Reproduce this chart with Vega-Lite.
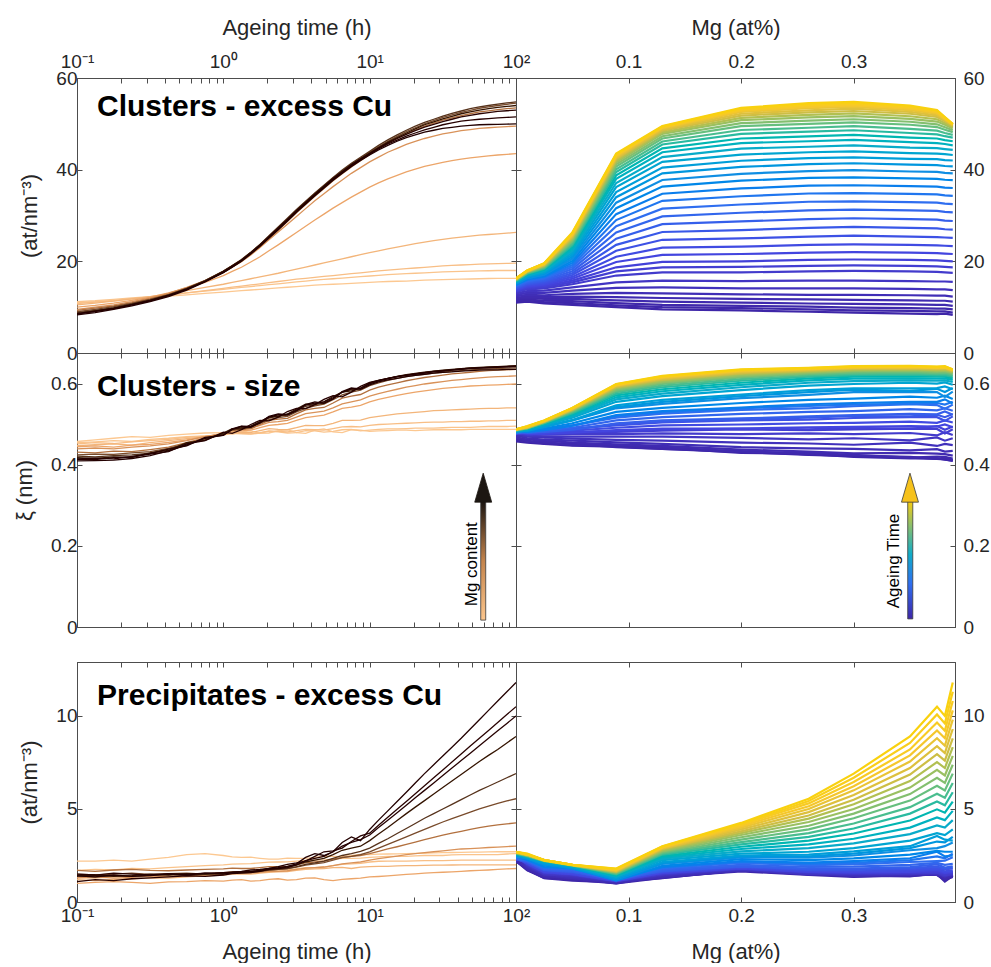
{
"$schema":"https://vega.github.io/schema/vega-lite/v6.json",
"background":"white",
"padding":{"left":13,"top":15,"right":0,"bottom":0},
"config":{"view":{"stroke":"#4d4d4d","strokeWidth":1},
"axis":{"labelFont":"Liberation Sans","titleFont":"Liberation Sans","labelFontSize":19,"titleFontSize":22,"titleFontWeight":"normal","labelColor":"#262626","titleColor":"#262626","tickColor":"#4d4d4d","domainColor":"#4d4d4d","grid":false,"tickSize":-5,"labelFlush":false,"labelOverlap":false}},
"datasets":{"d":[
{"m":0,"t":0.1,"a":11,"b":0.458,"c":2.2},{"m":0,"t":0.133,"a":11.2,"b":0.462,"c":2.2},{"m":0,"t":0.178,"a":11.5,"b":0.466,"c":2.25},{"m":0,"t":0.237,"a":11.8,"b":0.47,"c":2.2},{"m":0,"t":0.316,"a":12.1,"b":0.468,"c":2.3},{"m":0,"t":0.422,"a":12.4,"b":0.473,"c":2.4},{"m":0,"t":0.562,"a":12.7,"b":0.476,"c":2.55},{"m":0,"t":0.75,"a":13,"b":0.479,"c":2.6},{"m":0,"t":1,"a":13.3,"b":0.48,"c":2.5},{"m":0,"t":1.15,"a":13.45,"b":0.476,"c":2.42},{"m":0,"t":1.33,"a":13.6,"b":0.482,"c":2.4},{"m":0,"t":1.54,"a":13.75,"b":0.484,"c":2.41},{"m":0,"t":1.78,"a":13.9,"b":0.478,"c":2.35},{"m":0,"t":2.05,"a":14.05,"b":0.479,"c":2.3},{"m":0,"t":2.37,"a":14.2,"b":0.485,"c":2.3},{"m":0,"t":2.74,"a":14.35,"b":0.487,"c":2.36},{"m":0,"t":3.16,"a":14.5,"b":0.48,"c":2.35},{"m":0,"t":3.65,"a":14.65,"b":0.478,"c":2.35},{"m":0,"t":4.22,"a":14.8,"b":0.486,"c":2.4},{"m":0,"t":4.87,"a":14.9,"b":0.489,"c":2.46},{"m":0,"t":5.62,"a":15,"b":0.482,"c":2.45},{"m":0,"t":6.49,"a":15.1,"b":0.48,"c":2.44},{"m":0,"t":7.5,"a":15.2,"b":0.487,"c":2.5},{"m":0,"t":8.66,"a":15.3,"b":0.486,"c":2.56},{"m":0,"t":10,"a":15.4,"b":0.483,"c":2.55},{"m":0,"t":11.5,"a":15.5,"b":0.484,"c":2.57},{"m":0,"t":13.3,"a":15.6,"b":0.485,"c":2.58},{"m":0,"t":15.4,"a":15.65,"b":0.486,"c":2.59},{"m":0,"t":17.8,"a":15.7,"b":0.486,"c":2.6},{"m":0,"t":20.5,"a":15.8,"b":0.485,"c":2.61},{"m":0,"t":23.7,"a":15.9,"b":0.486,"c":2.62},{"m":0,"t":27.4,"a":15.95,"b":0.487,"c":2.64},{"m":0,"t":31.6,"a":16,"b":0.487,"c":2.65},{"m":0,"t":36.5,"a":16.05,"b":0.487,"c":2.66},{"m":0,"t":42.2,"a":16.1,"b":0.487,"c":2.67},{"m":0,"t":48.7,"a":16.15,"b":0.488,"c":2.68},{"m":0,"t":56.2,"a":16.2,"b":0.488,"c":2.68},{"m":0,"t":64.9,"a":16.25,"b":0.488,"c":2.69},{"m":0,"t":75,"a":16.3,"b":0.488,"c":2.7},{"m":0,"t":86.6,"a":16.3,"b":0.488,"c":2.7},{"m":0,"t":100,"a":16.3,"b":0.488,"c":2.7},
{"m":0.01,"t":0.1,"a":11.2,"b":0.455,"c":1.7},{"m":0.01,"t":0.133,"a":11.4,"b":0.457,"c":1.75},{"m":0.01,"t":0.178,"a":11.7,"b":0.46,"c":1.72},{"m":0.01,"t":0.237,"a":12,"b":0.458,"c":1.8},{"m":0.01,"t":0.316,"a":12.3,"b":0.463,"c":1.78},{"m":0.01,"t":0.422,"a":12.7,"b":0.466,"c":1.85},{"m":0.01,"t":0.562,"a":13.1,"b":0.47,"c":1.9},{"m":0.01,"t":0.75,"a":13.5,"b":0.472,"c":1.95},{"m":0.01,"t":1,"a":13.9,"b":0.474,"c":2},{"m":0.01,"t":1.33,"a":14.3,"b":0.477,"c":2.05},{"m":0.01,"t":1.78,"a":14.7,"b":0.479,"c":2.1},{"m":0.01,"t":2.37,"a":15.1,"b":0.482,"c":2.15},{"m":0.01,"t":3.16,"a":15.5,"b":0.48,"c":2.2},{"m":0.01,"t":4.22,"a":15.9,"b":0.484,"c":2.25},{"m":0.01,"t":5.62,"a":16.2,"b":0.483,"c":2.3},{"m":0.01,"t":7.5,"a":16.5,"b":0.488,"c":2.35},{"m":0.01,"t":10,"a":16.8,"b":0.486,"c":2.4},{"m":0.01,"t":13.3,"a":17.1,"b":0.489,"c":2.45},{"m":0.01,"t":17.8,"a":17.3,"b":0.49,"c":2.45},{"m":0.01,"t":23.7,"a":17.5,"b":0.491,"c":2.5},{"m":0.01,"t":31.6,"a":17.7,"b":0.492,"c":2.5},{"m":0.01,"t":42.2,"a":17.8,"b":0.493,"c":2.55},{"m":0.01,"t":56.2,"a":17.9,"b":0.494,"c":2.55},{"m":0.01,"t":75,"a":18,"b":0.495,"c":2.55},{"m":0.01,"t":100,"a":18,"b":0.496,"c":2.6},
{"m":0.01,"t":1.15,"a":14.1,"b":0.478,"c":2.04},{"m":0.01,"t":1.54,"a":14.5,"b":0.476,"c":2.06},{"m":0.01,"t":2.05,"a":14.9,"b":0.483,"c":2.14},{"m":0.01,"t":2.74,"a":15.3,"b":0.479,"c":2.16},{"m":0.01,"t":3.65,"a":15.7,"b":0.485,"c":2.24},{"m":0.01,"t":4.87,"a":16.05,"b":0.481,"c":2.26},{"m":0.01,"t":6.49,"a":16.35,"b":0.487,"c":2.34},{"m":0.01,"t":8.66,"a":16.65,"b":0.484,"c":2.36},{"m":0.01,"t":11.5,"a":16.95,"b":0.488,"c":2.43},{"m":0.01,"t":15.4,"a":17.2,"b":0.489,"c":2.45},{"m":0.01,"t":20.5,"a":17.4,"b":0.491,"c":2.48},{"m":0.01,"t":27.4,"a":17.6,"b":0.491,"c":2.5},{"m":0.01,"t":36.5,"a":17.75,"b":0.493,"c":2.53},{"m":0.01,"t":48.7,"a":17.85,"b":0.493,"c":2.55},{"m":0.01,"t":64.9,"a":17.95,"b":0.495,"c":2.55},{"m":0.01,"t":86.6,"a":18,"b":0.495,"c":2.58},
{"m":0.025,"t":0.1,"a":10.8,"b":0.452,"c":1.3},{"m":0.025,"t":0.133,"a":11.1,"b":0.455,"c":1.28},{"m":0.025,"t":0.178,"a":11.4,"b":0.453,"c":1.35},{"m":0.025,"t":0.237,"a":11.8,"b":0.457,"c":1.4},{"m":0.025,"t":0.316,"a":12.2,"b":0.46,"c":1.38},{"m":0.025,"t":0.422,"a":12.6,"b":0.463,"c":1.45},{"m":0.025,"t":0.562,"a":13.1,"b":0.468,"c":1.5},{"m":0.025,"t":0.75,"a":13.6,"b":0.471,"c":1.48},{"m":0.025,"t":1,"a":14.1,"b":0.475,"c":1.55},{"m":0.025,"t":1.33,"a":14.6,"b":0.478,"c":1.6},{"m":0.025,"t":1.78,"a":15.1,"b":0.48,"c":1.65},{"m":0.025,"t":2.37,"a":15.6,"b":0.483,"c":1.72},{"m":0.025,"t":3.16,"a":16.1,"b":0.485,"c":1.78},{"m":0.025,"t":4.22,"a":16.5,"b":0.487,"c":1.85},{"m":0.025,"t":5.62,"a":16.9,"b":0.49,"c":1.95},{"m":0.025,"t":7.5,"a":17.3,"b":0.495,"c":2.05},{"m":0.025,"t":10,"a":17.7,"b":0.498,"c":2.15},{"m":0.025,"t":13.3,"a":18.1,"b":0.501,"c":2.2},{"m":0.025,"t":17.8,"a":18.4,"b":0.503,"c":2.2},{"m":0.025,"t":23.7,"a":18.7,"b":0.505,"c":2.22},{"m":0.025,"t":31.6,"a":19,"b":0.506,"c":2.22},{"m":0.025,"t":42.2,"a":19.2,"b":0.507,"c":2.25},{"m":0.025,"t":56.2,"a":19.4,"b":0.508,"c":2.25},{"m":0.025,"t":75,"a":19.5,"b":0.509,"c":2.25},{"m":0.025,"t":100,"a":19.6,"b":0.51,"c":2.25},
{"m":0.025,"t":1.15,"a":14.35,"b":0.479,"c":1.6},{"m":0.025,"t":1.54,"a":14.85,"b":0.477,"c":1.6},{"m":0.025,"t":2.05,"a":15.35,"b":0.484,"c":1.7},{"m":0.025,"t":2.74,"a":15.85,"b":0.482,"c":1.73},{"m":0.025,"t":3.65,"a":16.3,"b":0.488,"c":1.84},{"m":0.025,"t":4.87,"a":16.7,"b":0.486,"c":1.88},{"m":0.025,"t":6.49,"a":17.1,"b":0.494,"c":2.02},{"m":0.025,"t":8.66,"a":17.5,"b":0.494,"c":2.08},{"m":0.025,"t":11.5,"a":17.9,"b":0.5,"c":2.19},{"m":0.025,"t":15.4,"a":18.25,"b":0.502,"c":2.2},{"m":0.025,"t":20.5,"a":18.55,"b":0.504,"c":2.21},{"m":0.025,"t":27.4,"a":18.85,"b":0.506,"c":2.22},{"m":0.025,"t":36.5,"a":19.1,"b":0.507,"c":2.24},{"m":0.025,"t":48.7,"a":19.3,"b":0.508,"c":2.25},{"m":0.025,"t":64.9,"a":19.45,"b":0.509,"c":2.25},{"m":0.025,"t":86.6,"a":19.55,"b":0.51,"c":2.25},
{"m":0.05,"t":0.1,"a":10.5,"b":0.448,"c":1.2},{"m":0.05,"t":0.133,"a":10.9,"b":0.45,"c":1.15},{"m":0.05,"t":0.178,"a":11.3,"b":0.452,"c":1.22},{"m":0.05,"t":0.237,"a":11.8,"b":0.449,"c":1.25},{"m":0.05,"t":0.316,"a":12.3,"b":0.455,"c":1.3},{"m":0.05,"t":0.422,"a":12.9,"b":0.46,"c":1.28},{"m":0.05,"t":0.562,"a":13.6,"b":0.465,"c":1.35},{"m":0.05,"t":0.75,"a":14.3,"b":0.47,"c":1.4},{"m":0.05,"t":1,"a":15,"b":0.476,"c":1.45},{"m":0.05,"t":1.33,"a":15.8,"b":0.48,"c":1.5},{"m":0.05,"t":1.78,"a":16.6,"b":0.485,"c":1.55},{"m":0.05,"t":2.37,"a":17.4,"b":0.488,"c":1.62},{"m":0.05,"t":3.16,"a":18.3,"b":0.492,"c":1.7},{"m":0.05,"t":4.22,"a":19.2,"b":0.497,"c":1.78},{"m":0.05,"t":5.62,"a":20.1,"b":0.503,"c":1.85},{"m":0.05,"t":7.5,"a":21,"b":0.51,"c":1.8},{"m":0.05,"t":10,"a":21.9,"b":0.517,"c":1.9},{"m":0.05,"t":13.3,"a":22.7,"b":0.523,"c":1.92},{"m":0.05,"t":17.8,"a":23.5,"b":0.528,"c":1.95},{"m":0.05,"t":23.7,"a":24.2,"b":0.532,"c":1.97},{"m":0.05,"t":31.6,"a":24.8,"b":0.535,"c":1.98},{"m":0.05,"t":42.2,"a":25.3,"b":0.537,"c":2},{"m":0.05,"t":56.2,"a":25.7,"b":0.539,"c":2},{"m":0.05,"t":75,"a":26,"b":0.54,"c":2},{"m":0.05,"t":100,"a":26.3,"b":0.541,"c":2},
{"m":0.05,"t":1.15,"a":15.4,"b":0.481,"c":1.5},{"m":0.05,"t":1.54,"a":16.2,"b":0.48,"c":1.5},{"m":0.05,"t":2.05,"a":17,"b":0.49,"c":1.6},{"m":0.05,"t":2.74,"a":17.85,"b":0.487,"c":1.64},{"m":0.05,"t":3.65,"a":18.75,"b":0.498,"c":1.76},{"m":0.05,"t":4.87,"a":19.65,"b":0.497,"c":1.8},{"m":0.05,"t":6.49,"a":20.55,"b":0.51,"c":1.86},{"m":0.05,"t":8.66,"a":21.45,"b":0.511,"c":1.87},{"m":0.05,"t":11.5,"a":22.3,"b":0.52,"c":1.91},{"m":0.05,"t":15.4,"a":23.1,"b":0.526,"c":1.94},{"m":0.05,"t":20.5,"a":23.85,"b":0.53,"c":1.96},{"m":0.05,"t":27.4,"a":24.5,"b":0.534,"c":1.98},{"m":0.05,"t":36.5,"a":25.05,"b":0.536,"c":1.99},{"m":0.05,"t":48.7,"a":25.5,"b":0.538,"c":2},{"m":0.05,"t":64.9,"a":25.85,"b":0.54,"c":2},{"m":0.05,"t":86.6,"a":26.15,"b":0.541,"c":2},
{"m":0.089,"t":0.1,"a":10,"b":0.445,"c":1},{"m":0.089,"t":0.133,"a":10.4,"b":0.447,"c":1.05},{"m":0.089,"t":0.178,"a":10.9,"b":0.444,"c":1.1},{"m":0.089,"t":0.237,"a":11.5,"b":0.449,"c":1.05},{"m":0.089,"t":0.316,"a":12.2,"b":0.451,"c":1},{"m":0.089,"t":0.422,"a":13.1,"b":0.456,"c":1.08},{"m":0.089,"t":0.562,"a":14.2,"b":0.462,"c":1.1},{"m":0.089,"t":0.75,"a":15.4,"b":0.47,"c":1.15},{"m":0.089,"t":1,"a":16.9,"b":0.476,"c":1.12},{"m":0.089,"t":1.33,"a":18.7,"b":0.484,"c":1.2},{"m":0.089,"t":1.78,"a":21,"b":0.492,"c":1.15},{"m":0.089,"t":2.37,"a":23.6,"b":0.5,"c":1.25},{"m":0.089,"t":3.16,"a":26.3,"b":0.51,"c":1.2},{"m":0.089,"t":4.22,"a":29,"b":0.52,"c":1.3},{"m":0.089,"t":5.62,"a":31.6,"b":0.531,"c":1.15},{"m":0.089,"t":7.5,"a":34,"b":0.543,"c":1.25},{"m":0.089,"t":10,"a":36.2,"b":0.556,"c":1.35},{"m":0.089,"t":13.3,"a":38,"b":0.567,"c":1.4},{"m":0.089,"t":17.8,"a":39.5,"b":0.576,"c":1.48},{"m":0.089,"t":23.7,"a":40.7,"b":0.583,"c":1.55},{"m":0.089,"t":31.6,"a":41.6,"b":0.589,"c":1.6},{"m":0.089,"t":42.2,"a":42.3,"b":0.593,"c":1.65},{"m":0.089,"t":56.2,"a":42.8,"b":0.596,"c":1.7},{"m":0.089,"t":75,"a":43.2,"b":0.598,"c":1.75},{"m":0.089,"t":100,"a":43.5,"b":0.6,"c":1.8},
{"m":0.089,"t":1.15,"a":17.8,"b":0.482,"c":1.18},{"m":0.089,"t":1.54,"a":19.85,"b":0.486,"c":1.12},{"m":0.089,"t":2.05,"a":22.3,"b":0.498,"c":1.22},{"m":0.089,"t":2.74,"a":24.95,"b":0.503,"c":1.18},{"m":0.089,"t":3.65,"a":27.65,"b":0.517,"c":1.28},{"m":0.089,"t":4.87,"a":30.3,"b":0.523,"c":1.2},{"m":0.089,"t":6.49,"a":32.8,"b":0.54,"c":1.22},{"m":0.089,"t":8.66,"a":35.1,"b":0.547,"c":1.28},{"m":0.089,"t":11.5,"a":37.1,"b":0.562,"c":1.37},{"m":0.089,"t":15.4,"a":38.75,"b":0.572,"c":1.44},{"m":0.089,"t":20.5,"a":40.1,"b":0.58,"c":1.51},{"m":0.089,"t":27.4,"a":41.15,"b":0.586,"c":1.58},{"m":0.089,"t":36.5,"a":41.95,"b":0.591,"c":1.62},{"m":0.089,"t":48.7,"a":42.55,"b":0.595,"c":1.68},{"m":0.089,"t":64.9,"a":43,"b":0.597,"c":1.72},{"m":0.089,"t":86.6,"a":43.35,"b":0.599,"c":1.78},
{"m":0.13,"t":0.1,"a":9.5,"b":0.44,"c":1.3},{"m":0.13,"t":0.133,"a":10,"b":0.442,"c":1.35},{"m":0.13,"t":0.178,"a":10.5,"b":0.44,"c":1.28},{"m":0.13,"t":0.237,"a":11.2,"b":0.444,"c":1.32},{"m":0.13,"t":0.316,"a":12,"b":0.447,"c":1.4},{"m":0.13,"t":0.422,"a":13,"b":0.452,"c":1.35},{"m":0.13,"t":0.562,"a":14.3,"b":0.46,"c":1.42},{"m":0.13,"t":0.75,"a":15.8,"b":0.47,"c":1.45},{"m":0.13,"t":1,"a":17.6,"b":0.478,"c":1.5},{"m":0.13,"t":1.33,"a":19.9,"b":0.487,"c":1.55},{"m":0.13,"t":1.78,"a":23,"b":0.498,"c":1.6},{"m":0.13,"t":2.37,"a":26.4,"b":0.507,"c":1.65},{"m":0.13,"t":3.16,"a":29.8,"b":0.518,"c":1.75},{"m":0.13,"t":4.22,"a":33.2,"b":0.53,"c":1.85},{"m":0.13,"t":5.62,"a":36.3,"b":0.541,"c":1.95},{"m":0.13,"t":7.5,"a":39.2,"b":0.556,"c":2.1},{"m":0.13,"t":10,"a":41.7,"b":0.57,"c":2.25},{"m":0.13,"t":13.3,"a":43.8,"b":0.582,"c":2.4},{"m":0.13,"t":17.8,"a":45.5,"b":0.592,"c":2.55},{"m":0.13,"t":23.7,"a":46.8,"b":0.6,"c":2.65},{"m":0.13,"t":31.6,"a":47.8,"b":0.606,"c":2.75},{"m":0.13,"t":42.2,"a":48.5,"b":0.611,"c":2.85},{"m":0.13,"t":56.2,"a":49,"b":0.615,"c":2.9},{"m":0.13,"t":75,"a":49.3,"b":0.618,"c":2.95},{"m":0.13,"t":100,"a":49.5,"b":0.62,"c":3},
{"m":0.13,"t":1.15,"a":18.7,"b":0.485,"c":1.55},{"m":0.13,"t":1.54,"a":21.4,"b":0.49,"c":1.56},{"m":0.13,"t":2.05,"a":24.7,"b":0.505,"c":1.65},{"m":0.13,"t":2.74,"a":28.1,"b":0.51,"c":1.68},{"m":0.13,"t":3.65,"a":31.5,"b":0.527,"c":1.82},{"m":0.13,"t":4.87,"a":34.75,"b":0.533,"c":1.88},{"m":0.13,"t":6.49,"a":37.75,"b":0.551,"c":2.05},{"m":0.13,"t":8.66,"a":40.45,"b":0.561,"c":2.15},{"m":0.13,"t":11.5,"a":42.75,"b":0.576,"c":2.33},{"m":0.13,"t":15.4,"a":44.65,"b":0.587,"c":2.47},{"m":0.13,"t":20.5,"a":46.15,"b":0.596,"c":2.6},{"m":0.13,"t":27.4,"a":47.3,"b":0.603,"c":2.7},{"m":0.13,"t":36.5,"a":48.15,"b":0.609,"c":2.8},{"m":0.13,"t":48.7,"a":48.75,"b":0.613,"c":2.87},{"m":0.13,"t":64.9,"a":49.15,"b":0.617,"c":2.93},{"m":0.13,"t":86.6,"a":49.4,"b":0.619,"c":2.98},
{"m":0.2,"t":0.1,"a":9.3,"b":0.432,"c":1.7},{"m":0.2,"t":0.133,"a":9.8,"b":0.43,"c":1.65},{"m":0.2,"t":0.178,"a":10.3,"b":0.434,"c":1.72},{"m":0.2,"t":0.237,"a":11,"b":0.433,"c":1.75},{"m":0.2,"t":0.316,"a":11.8,"b":0.438,"c":1.7},{"m":0.2,"t":0.422,"a":12.8,"b":0.444,"c":1.68},{"m":0.2,"t":0.562,"a":14.1,"b":0.455,"c":1.72},{"m":0.2,"t":0.75,"a":15.7,"b":0.467,"c":1.75},{"m":0.2,"t":1,"a":17.6,"b":0.476,"c":1.78},{"m":0.2,"t":1.33,"a":20,"b":0.49,"c":1.8},{"m":0.2,"t":1.78,"a":23.2,"b":0.5,"c":1.85},{"m":0.2,"t":2.37,"a":26.8,"b":0.513,"c":1.9},{"m":0.2,"t":3.16,"a":30.6,"b":0.526,"c":2},{"m":0.2,"t":4.22,"a":34.2,"b":0.54,"c":2.15},{"m":0.2,"t":5.62,"a":37.6,"b":0.553,"c":2.3},{"m":0.2,"t":7.5,"a":40.6,"b":0.57,"c":2.45},{"m":0.2,"t":10,"a":43.3,"b":0.585,"c":2.6},{"m":0.2,"t":13.3,"a":45.8,"b":0.598,"c":2.85},{"m":0.2,"t":17.8,"a":47.8,"b":0.608,"c":3.1},{"m":0.2,"t":23.7,"a":49.5,"b":0.616,"c":3.35},{"m":0.2,"t":31.6,"a":50.8,"b":0.622,"c":3.6},{"m":0.2,"t":42.2,"a":51.8,"b":0.627,"c":3.8},{"m":0.2,"t":56.2,"a":52.6,"b":0.631,"c":4},{"m":0.2,"t":75,"a":53.1,"b":0.634,"c":4.15},{"m":0.2,"t":100,"a":53.5,"b":0.636,"c":4.25},
{"m":0.2,"t":1.15,"a":18.8,"b":0.488,"c":1.82},{"m":0.2,"t":1.54,"a":21.6,"b":0.49,"c":1.8},{"m":0.2,"t":2.05,"a":25,"b":0.51,"c":1.9},{"m":0.2,"t":2.74,"a":28.7,"b":0.515,"c":1.92},{"m":0.2,"t":3.65,"a":32.4,"b":0.536,"c":2.1},{"m":0.2,"t":4.87,"a":35.9,"b":0.542,"c":2.2},{"m":0.2,"t":6.49,"a":39.1,"b":0.565,"c":2.4},{"m":0.2,"t":8.66,"a":41.95,"b":0.574,"c":2.5},{"m":0.2,"t":11.5,"a":44.6,"b":0.592,"c":2.72},{"m":0.2,"t":15.4,"a":46.8,"b":0.603,"c":2.97},{"m":0.2,"t":20.5,"a":48.65,"b":0.612,"c":3.22},{"m":0.2,"t":27.4,"a":50.15,"b":0.619,"c":3.48},{"m":0.2,"t":36.5,"a":51.3,"b":0.625,"c":3.7},{"m":0.2,"t":48.7,"a":52.2,"b":0.629,"c":3.9},{"m":0.2,"t":64.9,"a":52.85,"b":0.633,"c":4.08},{"m":0.2,"t":86.6,"a":53.3,"b":0.635,"c":4.2},
{"m":0.26,"t":0.1,"a":9,"b":0.425,"c":1.5},{"m":0.26,"t":0.133,"a":9.5,"b":0.427,"c":1.45},{"m":0.26,"t":0.178,"a":10.1,"b":0.426,"c":1.5},{"m":0.26,"t":0.237,"a":10.8,"b":0.43,"c":1.55},{"m":0.26,"t":0.316,"a":11.7,"b":0.433,"c":1.48},{"m":0.26,"t":0.422,"a":12.7,"b":0.441,"c":1.52},{"m":0.26,"t":0.562,"a":14.1,"b":0.453,"c":1.55},{"m":0.26,"t":0.75,"a":15.8,"b":0.463,"c":1.5},{"m":0.26,"t":1,"a":17.8,"b":0.478,"c":1.58},{"m":0.26,"t":1.33,"a":20.3,"b":0.488,"c":1.62},{"m":0.26,"t":1.78,"a":23.6,"b":0.503,"c":1.68},{"m":0.26,"t":2.37,"a":27.3,"b":0.517,"c":1.75},{"m":0.26,"t":3.16,"a":31.1,"b":0.531,"c":1.88},{"m":0.26,"t":4.22,"a":34.8,"b":0.546,"c":2.05},{"m":0.26,"t":5.62,"a":38.2,"b":0.561,"c":2.25},{"m":0.26,"t":7.5,"a":41.2,"b":0.58,"c":2.45},{"m":0.26,"t":10,"a":43.8,"b":0.596,"c":2.7},{"m":0.26,"t":13.3,"a":46.2,"b":0.609,"c":3.1},{"m":0.26,"t":17.8,"a":48.3,"b":0.618,"c":3.5},{"m":0.26,"t":23.7,"a":50,"b":0.624,"c":3.9},{"m":0.26,"t":31.6,"a":51.4,"b":0.629,"c":4.3},{"m":0.26,"t":42.2,"a":52.5,"b":0.633,"c":4.65},{"m":0.26,"t":56.2,"a":53.4,"b":0.636,"c":5},{"m":0.26,"t":75,"a":54,"b":0.638,"c":5.3},{"m":0.26,"t":100,"a":54.5,"b":0.64,"c":5.55},
{"m":0.26,"t":1.15,"a":19,"b":0.486,"c":1.62},{"m":0.26,"t":1.54,"a":21.9,"b":0.493,"c":1.63},{"m":0.26,"t":2.05,"a":25.4,"b":0.512,"c":1.73},{"m":0.26,"t":2.74,"a":29.2,"b":0.52,"c":1.8},{"m":0.26,"t":3.65,"a":33,"b":0.54,"c":1.98},{"m":0.26,"t":4.87,"a":36.5,"b":0.55,"c":2.12},{"m":0.26,"t":6.49,"a":39.7,"b":0.573,"c":2.38},{"m":0.26,"t":8.66,"a":42.5,"b":0.585,"c":2.55},{"m":0.26,"t":11.5,"a":45,"b":0.603,"c":2.9},{"m":0.26,"t":15.4,"a":47.25,"b":0.614,"c":3.3},{"m":0.26,"t":20.5,"a":49.15,"b":0.621,"c":3.7},{"m":0.26,"t":27.4,"a":50.7,"b":0.627,"c":4.1},{"m":0.26,"t":36.5,"a":51.95,"b":0.631,"c":4.48},{"m":0.26,"t":48.7,"a":52.95,"b":0.635,"c":4.83},{"m":0.26,"t":64.9,"a":53.7,"b":0.637,"c":5.15},{"m":0.26,"t":86.6,"a":54.25,"b":0.639,"c":5.43},
{"m":0.3,"t":0.1,"a":8.8,"b":0.422,"c":1.4},{"m":0.3,"t":0.133,"a":9.3,"b":0.42,"c":1.35},{"m":0.3,"t":0.178,"a":9.9,"b":0.423,"c":1.42},{"m":0.3,"t":0.237,"a":10.7,"b":0.425,"c":1.38},{"m":0.3,"t":0.316,"a":11.6,"b":0.429,"c":1.45},{"m":0.3,"t":0.422,"a":12.7,"b":0.44,"c":1.48},{"m":0.3,"t":0.562,"a":14.1,"b":0.45,"c":1.42},{"m":0.3,"t":0.75,"a":15.8,"b":0.466,"c":1.5},{"m":0.3,"t":1,"a":17.9,"b":0.476,"c":1.52},{"m":0.3,"t":1.33,"a":20.4,"b":0.492,"c":1.58},{"m":0.3,"t":1.78,"a":23.7,"b":0.504,"c":1.65},{"m":0.3,"t":2.37,"a":27.5,"b":0.521,"c":1.75},{"m":0.3,"t":3.16,"a":31.3,"b":0.533,"c":1.9},{"m":0.3,"t":4.22,"a":34.9,"b":0.549,"c":2.1},{"m":0.3,"t":5.62,"a":38.3,"b":0.564,"c":2.35},{"m":0.3,"t":7.5,"a":41.4,"b":0.586,"c":2.6},{"m":0.3,"t":10,"a":44,"b":0.6,"c":2.9},{"m":0.3,"t":13.3,"a":46.5,"b":0.613,"c":3.4},{"m":0.3,"t":17.8,"a":48.6,"b":0.622,"c":3.95},{"m":0.3,"t":23.7,"a":50.3,"b":0.628,"c":4.5},{"m":0.3,"t":31.6,"a":51.7,"b":0.633,"c":5},{"m":0.3,"t":42.2,"a":52.8,"b":0.637,"c":5.5},{"m":0.3,"t":56.2,"a":53.7,"b":0.64,"c":6},{"m":0.3,"t":75,"a":54.3,"b":0.642,"c":6.45},{"m":0.3,"t":100,"a":54.8,"b":0.644,"c":6.9},
{"m":0.3,"t":1.15,"a":19.1,"b":0.488,"c":1.56},{"m":0.3,"t":1.54,"a":22,"b":0.494,"c":1.6},{"m":0.3,"t":2.05,"a":25.6,"b":0.516,"c":1.72},{"m":0.3,"t":2.74,"a":29.4,"b":0.523,"c":1.8},{"m":0.3,"t":3.65,"a":33.1,"b":0.545,"c":2.02},{"m":0.3,"t":4.87,"a":36.6,"b":0.553,"c":2.2},{"m":0.3,"t":6.49,"a":39.9,"b":0.58,"c":2.5},{"m":0.3,"t":8.66,"a":42.7,"b":0.589,"c":2.72},{"m":0.3,"t":11.5,"a":45.3,"b":0.607,"c":3.15},{"m":0.3,"t":15.4,"a":47.6,"b":0.618,"c":3.68},{"m":0.3,"t":20.5,"a":49.5,"b":0.625,"c":4.22},{"m":0.3,"t":27.4,"a":51,"b":0.631,"c":4.75},{"m":0.3,"t":36.5,"a":52.3,"b":0.635,"c":5.25},{"m":0.3,"t":48.7,"a":53.3,"b":0.639,"c":5.75},{"m":0.3,"t":64.9,"a":54,"b":0.641,"c":6.22},{"m":0.3,"t":86.6,"a":54.55,"b":0.643,"c":6.68},
{"m":0.35,"t":0.1,"a":8.6,"b":0.418,"c":1.4},{"m":0.35,"t":0.133,"a":9.2,"b":0.416,"c":1.45},{"m":0.35,"t":0.178,"a":9.8,"b":0.42,"c":1.38},{"m":0.35,"t":0.237,"a":10.6,"b":0.418,"c":1.42},{"m":0.35,"t":0.316,"a":11.5,"b":0.43,"c":1.5},{"m":0.35,"t":0.422,"a":12.6,"b":0.436,"c":1.45},{"m":0.35,"t":0.562,"a":14,"b":0.455,"c":1.52},{"m":0.35,"t":0.75,"a":15.7,"b":0.461,"c":1.5},{"m":0.35,"t":1,"a":17.8,"b":0.479,"c":1.55},{"m":0.35,"t":1.33,"a":20.3,"b":0.489,"c":1.6},{"m":0.35,"t":1.78,"a":23.6,"b":0.507,"c":1.7},{"m":0.35,"t":2.37,"a":27.3,"b":0.52,"c":1.82},{"m":0.35,"t":3.16,"a":31.1,"b":0.538,"c":2},{"m":0.35,"t":4.22,"a":34.7,"b":0.551,"c":2.25},{"m":0.35,"t":5.62,"a":38.1,"b":0.569,"c":2.55},{"m":0.35,"t":7.5,"a":41.1,"b":0.583,"c":2.9},{"m":0.35,"t":10,"a":43.6,"b":0.603,"c":3.3},{"m":0.35,"t":13.3,"a":46,"b":0.614,"c":4},{"m":0.35,"t":17.8,"a":48,"b":0.623,"c":4.75},{"m":0.35,"t":23.7,"a":49.8,"b":0.629,"c":5.45},{"m":0.35,"t":31.6,"a":51.1,"b":0.634,"c":6.15},{"m":0.35,"t":42.2,"a":52.2,"b":0.638,"c":6.85},{"m":0.35,"t":56.2,"a":53,"b":0.641,"c":7.55},{"m":0.35,"t":75,"a":53.6,"b":0.643,"c":8.2},{"m":0.35,"t":100,"a":54,"b":0.645,"c":8.9},
{"m":0.35,"t":1.15,"a":19,"b":0.49,"c":1.6},{"m":0.35,"t":1.54,"a":21.9,"b":0.496,"c":1.62},{"m":0.35,"t":2.05,"a":25.4,"b":0.518,"c":1.78},{"m":0.35,"t":2.74,"a":29.2,"b":0.526,"c":1.88},{"m":0.35,"t":3.65,"a":32.9,"b":0.55,"c":2.15},{"m":0.35,"t":4.87,"a":36.4,"b":0.556,"c":2.35},{"m":0.35,"t":6.49,"a":39.6,"b":0.58,"c":2.78},{"m":0.35,"t":8.66,"a":42.35,"b":0.589,"c":3},{"m":0.35,"t":11.5,"a":44.8,"b":0.609,"c":3.65},{"m":0.35,"t":15.4,"a":47,"b":0.619,"c":4.38},{"m":0.35,"t":20.5,"a":48.9,"b":0.626,"c":5.1},{"m":0.35,"t":27.4,"a":50.45,"b":0.632,"c":5.8},{"m":0.35,"t":36.5,"a":51.65,"b":0.636,"c":6.5},{"m":0.35,"t":48.7,"a":52.6,"b":0.64,"c":7.2},{"m":0.35,"t":64.9,"a":53.3,"b":0.642,"c":7.88},{"m":0.35,"t":86.6,"a":53.8,"b":0.644,"c":8.55},
{"m":0.374,"t":0.1,"a":8.5,"b":0.415,"c":1.5},{"m":0.374,"t":0.133,"a":9.1,"b":0.417,"c":1.45},{"m":0.374,"t":0.178,"a":9.7,"b":0.415,"c":1.55},{"m":0.374,"t":0.237,"a":10.5,"b":0.421,"c":1.5},{"m":0.374,"t":0.316,"a":11.4,"b":0.428,"c":1.45},{"m":0.374,"t":0.422,"a":12.5,"b":0.439,"c":1.52},{"m":0.374,"t":0.562,"a":13.9,"b":0.447,"c":1.48},{"m":0.374,"t":0.75,"a":15.6,"b":0.468,"c":1.55},{"m":0.374,"t":1,"a":17.7,"b":0.473,"c":1.58},{"m":0.374,"t":1.33,"a":20.2,"b":0.496,"c":1.65},{"m":0.374,"t":1.78,"a":23.5,"b":0.504,"c":1.75},{"m":0.374,"t":2.37,"a":27.2,"b":0.524,"c":1.9},{"m":0.374,"t":3.16,"a":31,"b":0.535,"c":2.1},{"m":0.374,"t":4.22,"a":34.6,"b":0.553,"c":2.45},{"m":0.374,"t":5.62,"a":38,"b":0.566,"c":2.75},{"m":0.374,"t":7.5,"a":41,"b":0.588,"c":3.25},{"m":0.374,"t":10,"a":43.5,"b":0.601,"c":3.7},{"m":0.374,"t":13.3,"a":45.8,"b":0.613,"c":4.55},{"m":0.374,"t":17.8,"a":47.7,"b":0.621,"c":5.4},{"m":0.374,"t":23.7,"a":49.3,"b":0.627,"c":6.25},{"m":0.374,"t":31.6,"a":50.5,"b":0.632,"c":7.1},{"m":0.374,"t":42.2,"a":51.5,"b":0.636,"c":7.95},{"m":0.374,"t":56.2,"a":52.2,"b":0.639,"c":8.8},{"m":0.374,"t":75,"a":52.7,"b":0.641,"c":9.65},{"m":0.374,"t":100,"a":53,"b":0.643,"c":10.5},
{"m":0.374,"t":1.15,"a":18.9,"b":0.489,"c":1.6},{"m":0.374,"t":1.54,"a":21.8,"b":0.495,"c":1.72},{"m":0.374,"t":2.05,"a":25.3,"b":0.518,"c":1.8},{"m":0.374,"t":2.74,"a":29.1,"b":0.525,"c":2.02},{"m":0.374,"t":3.65,"a":32.8,"b":0.548,"c":2.2},{"m":0.374,"t":4.87,"a":36.3,"b":0.556,"c":2.7},{"m":0.374,"t":6.49,"a":39.5,"b":0.58,"c":2.9},{"m":0.374,"t":8.66,"a":42.3,"b":0.59,"c":3.55},{"m":0.374,"t":11.5,"a":44.7,"b":0.608,"c":4.12},{"m":0.374,"t":15.4,"a":46.8,"b":0.618,"c":4.98},{"m":0.374,"t":20.5,"a":48.5,"b":0.624,"c":5.82},{"m":0.374,"t":27.4,"a":49.9,"b":0.63,"c":6.68},{"m":0.374,"t":36.5,"a":51,"b":0.634,"c":7.52},{"m":0.374,"t":48.7,"a":51.85,"b":0.638,"c":8.38},{"m":0.374,"t":64.9,"a":52.45,"b":0.64,"c":9.22},{"m":0.374,"t":86.6,"a":52.85,"b":0.642,"c":10.08},
{"m":0.381,"t":0.1,"a":8.6,"b":0.414,"c":1.1},{"m":0.381,"t":0.133,"a":9.1,"b":0.413,"c":1.2},{"m":0.381,"t":0.178,"a":9.7,"b":0.418,"c":1.15},{"m":0.381,"t":0.237,"a":10.5,"b":0.42,"c":1.25},{"m":0.381,"t":0.316,"a":11.4,"b":0.427,"c":1.3},{"m":0.381,"t":0.422,"a":12.5,"b":0.433,"c":1.35},{"m":0.381,"t":0.562,"a":13.9,"b":0.452,"c":1.4},{"m":0.381,"t":0.75,"a":15.6,"b":0.46,"c":1.38},{"m":0.381,"t":1,"a":17.6,"b":0.481,"c":1.45},{"m":0.381,"t":1.33,"a":20.1,"b":0.487,"c":1.55},{"m":0.381,"t":1.78,"a":23.4,"b":0.51,"c":1.65},{"m":0.381,"t":2.37,"a":27,"b":0.518,"c":1.8},{"m":0.381,"t":3.16,"a":30.8,"b":0.54,"c":2},{"m":0.381,"t":4.22,"a":34.4,"b":0.549,"c":2.35},{"m":0.381,"t":5.62,"a":37.8,"b":0.571,"c":2.7},{"m":0.381,"t":7.5,"a":40.8,"b":0.58,"c":3.2},{"m":0.381,"t":10,"a":43.4,"b":0.604,"c":3.6},{"m":0.381,"t":13.3,"a":45.6,"b":0.614,"c":4.4},{"m":0.381,"t":17.8,"a":47.3,"b":0.622,"c":5.2},{"m":0.381,"t":23.7,"a":48.7,"b":0.628,"c":6},{"m":0.381,"t":31.6,"a":49.8,"b":0.633,"c":6.8},{"m":0.381,"t":42.2,"a":50.6,"b":0.637,"c":7.6},{"m":0.381,"t":56.2,"a":51,"b":0.64,"c":8.4},{"m":0.381,"t":75,"a":51.3,"b":0.642,"c":9.2},{"m":0.381,"t":100,"a":51.5,"b":0.644,"c":10},
{"m":0.381,"t":1.15,"a":18.8,"b":0.478,"c":1.52},{"m":0.381,"t":1.54,"a":21.7,"b":0.5,"c":1.58},{"m":0.381,"t":2.05,"a":25.2,"b":0.509,"c":1.75},{"m":0.381,"t":2.74,"a":28.9,"b":0.532,"c":1.85},{"m":0.381,"t":3.65,"a":32.6,"b":0.539,"c":2.22},{"m":0.381,"t":4.87,"a":36.1,"b":0.562,"c":2.45},{"m":0.381,"t":6.49,"a":39.3,"b":0.568,"c":3},{"m":0.381,"t":8.66,"a":42.1,"b":0.594,"c":3.35},{"m":0.381,"t":11.5,"a":44.5,"b":0.609,"c":4},{"m":0.381,"t":15.4,"a":46.45,"b":0.618,"c":4.8},{"m":0.381,"t":20.5,"a":48,"b":0.625,"c":5.6},{"m":0.381,"t":27.4,"a":49.25,"b":0.631,"c":6.4},{"m":0.381,"t":36.5,"a":50.2,"b":0.635,"c":7.2},{"m":0.381,"t":48.7,"a":50.8,"b":0.639,"c":8},{"m":0.381,"t":64.9,"a":51.15,"b":0.641,"c":8.8},{"m":0.381,"t":86.6,"a":51.4,"b":0.643,"c":9.6},
{"m":0.388,"t":0.1,"a":8.3,"b":0.41,"c":1.4},{"m":0.388,"t":0.133,"a":8.8,"b":0.411,"c":1.35},{"m":0.388,"t":0.178,"a":9.5,"b":0.412,"c":1.45},{"m":0.388,"t":0.237,"a":10.3,"b":0.416,"c":1.38},{"m":0.388,"t":0.316,"a":11.2,"b":0.423,"c":1.42},{"m":0.388,"t":0.422,"a":12.3,"b":0.435,"c":1.5},{"m":0.388,"t":0.562,"a":13.7,"b":0.449,"c":1.45},{"m":0.388,"t":0.75,"a":15.5,"b":0.466,"c":1.55},{"m":0.388,"t":1,"a":17.5,"b":0.474,"c":1.5},{"m":0.388,"t":1.33,"a":20,"b":0.495,"c":1.62},{"m":0.388,"t":1.78,"a":23.3,"b":0.505,"c":1.7},{"m":0.388,"t":2.37,"a":26.9,"b":0.526,"c":1.85},{"m":0.388,"t":3.16,"a":30.7,"b":0.534,"c":2.05},{"m":0.388,"t":4.22,"a":34.3,"b":0.556,"c":2.6},{"m":0.388,"t":5.62,"a":37.7,"b":0.563,"c":2.7},{"m":0.388,"t":7.5,"a":40.7,"b":0.59,"c":3.5},{"m":0.388,"t":10,"a":43.2,"b":0.598,"c":3.9},{"m":0.388,"t":13.3,"a":45.3,"b":0.61,"c":4.9},{"m":0.388,"t":17.8,"a":47,"b":0.618,"c":5.9},{"m":0.388,"t":23.7,"a":48.2,"b":0.624,"c":6.9},{"m":0.388,"t":31.6,"a":49,"b":0.629,"c":7.85},{"m":0.388,"t":42.2,"a":49.5,"b":0.632,"c":8.8},{"m":0.388,"t":56.2,"a":49.8,"b":0.634,"c":9.8},{"m":0.388,"t":75,"a":49.9,"b":0.635,"c":10.8},{"m":0.388,"t":100,"a":50,"b":0.636,"c":11.8},
{"m":0.388,"t":1.15,"a":18.7,"b":0.488,"c":1.58},{"m":0.388,"t":1.54,"a":21.6,"b":0.493,"c":1.64},{"m":0.388,"t":2.05,"a":25.1,"b":0.52,"c":1.8},{"m":0.388,"t":2.74,"a":28.8,"b":0.524,"c":1.92},{"m":0.388,"t":3.65,"a":32.5,"b":0.549,"c":2.4},{"m":0.388,"t":4.87,"a":36,"b":0.552,"c":2.5},{"m":0.388,"t":6.49,"a":39.2,"b":0.581,"c":3.2},{"m":0.388,"t":8.66,"a":42,"b":0.587,"c":3.3},{"m":0.388,"t":11.5,"a":44.3,"b":0.605,"c":4.4},{"m":0.388,"t":15.4,"a":46.2,"b":0.614,"c":5.4},{"m":0.388,"t":20.5,"a":47.6,"b":0.621,"c":6.4},{"m":0.388,"t":27.4,"a":48.6,"b":0.627,"c":7.38},{"m":0.388,"t":36.5,"a":49.25,"b":0.63,"c":8.32},{"m":0.388,"t":48.7,"a":49.65,"b":0.633,"c":9.3},{"m":0.388,"t":64.9,"a":49.85,"b":0.635,"c":10.3},{"m":0.388,"t":86.6,"a":49.95,"b":0.636,"c":11.3}
]},
"concat":[
{"width":439,"height":275,"layer":[
{"data":{"name":"d"},"mark":{"type":"line","strokeWidth":1.3,"clip":true},
"encoding":{"x":{"field":"t","type":"quantitative","scale":{"type":"log","domain":[0.1,100],"nice":false},"axis":{"orient":"top","values":[0.1,0.2,0.3,0.4,0.5,0.6,0.7,0.8,0.9,1,2,3,4,5,6,7,8,9,10,20,30,40,50,60,70,80,90,100],"labelExpr":"datum.value == 0.1 ? '10⁻¹' : datum.value == 1 ? '10⁰' : datum.value == 10 ? '10¹' : datum.value == 100 ? '10²' : ''","title":"Ageing time (h)","labelPadding":12,"titlePadding":13}},
"y":{"field":"a","type":"quantitative","scale":{"domain":[0,60],"nice":false},"axis":{"orient":"left","values":[0,20,40,60],"title":"(at/nm⁻³)","labelPadding":5,"titlePadding":14}},
"color":{"field":"m","type":"quantitative","scale":{"domain":[0,0.388],"range":["#fcc891","#eba266","#b87440","#5c3820","#000000"]},"legend":null},
"detail":{"field":"m","type":"nominal"}}},
{"data":{"values":[{"t":0.137,"v":51.7,"s":"Clusters - excess Cu"}]},"mark":{"type":"text","font":"Liberation Sans","fontWeight":"bold","fontSize":30,"align":"left","baseline":"alphabetic","color":"#000000"},
"encoding":{"x":{"field":"t","type":"quantitative","scale":{"type":"log","domain":[0.1,100],"nice":false},"axis":{"orient":"bottom","values":[0.1,0.2,0.3,0.4,0.5,0.6,0.7,0.8,0.9,1,2,3,4,5,6,7,8,9,10,20,30,40,50,60,70,80,90,100],"labels":false,"title":null}},
"y":{"field":"v","type":"quantitative","scale":{"domain":[0,60],"nice":false},"axis":{"orient":"right","values":[0,20,40,60],"labels":false,"title":null}},
"text":{"field":"s"}}}
],"resolve":{"scale":{"x":"independent","y":"independent"}}},
{"width":439,"height":275,"layer":[
{"data":{"name":"d"},"mark":{"type":"line","strokeWidth":2.2,"clip":true},
"encoding":{"x":{"field":"m","type":"quantitative","scale":{"domain":[0,0.39],"nice":false},"axis":{"orient":"top","values":[0.1,0.2,0.3],"format":"~g","title":"Mg (at%)","labelPadding":12,"titlePadding":13}},
"y":{"field":"a","type":"quantitative","scale":{"domain":[0,60],"nice":false},"axis":{"orient":"right","values":[0,20,40,60],"title":null,"labelPadding":13}},
"color":{"field":"t","type":"quantitative","scale":{"type":"symlog","constant":3,"domain":[0.1,100],"range":["#3e26a8","#4346e0","#2f6ff0","#1b92e0","#10acc8","#35bb9a","#8ebf6a","#d6bd42","#f8c82a","#f9d10e"]},"legend":null},
"detail":{"field":"t","type":"nominal"}}},
{"data":{"values":[{"x":0.2,"y":30}]},"mark":{"type":"point","opacity":0},
"encoding":{"x":{"field":"x","type":"quantitative","scale":{"domain":[0,0.39],"nice":false},"axis":{"orient":"bottom","values":[0.1,0.2,0.3],"labels":false,"title":null}},
"y":{"field":"y","type":"quantitative","scale":{"domain":[0,60],"nice":false},"axis":{"orient":"left","values":[0,20,40,60],"labels":false,"title":null}}}}
],"resolve":{"scale":{"x":"independent","y":"independent"}}},
{"width":439,"height":274,"layer":[
{"data":{"name":"d"},"mark":{"type":"line","strokeWidth":1.3,"clip":true},
"encoding":{"x":{"field":"t","type":"quantitative","scale":{"type":"log","domain":[0.1,100],"nice":false},"axis":{"orient":"bottom","values":[0.1,0.2,0.3,0.4,0.5,0.6,0.7,0.8,0.9,1,2,3,4,5,6,7,8,9,10,20,30,40,50,60,70,80,90,100],"labels":false,"title":null}},
"y":{"field":"b","type":"quantitative","scale":{"domain":[0,0.6765],"nice":false},"axis":{"orient":"left","values":[0,0.2,0.4,0.6],"format":"~g","title":"ξ (nm)","labelPadding":5,"titlePadding":14}},
"color":{"field":"m","type":"quantitative","scale":{"domain":[0,0.388],"range":["#fcc891","#eba266","#b87440","#5c3820","#000000"]},"legend":null},
"detail":{"field":"m","type":"nominal"}}},
{"data":{"values":[{"t":0.137,"v":0.57,"s":"Clusters - size"}]},"mark":{"type":"text","font":"Liberation Sans","fontWeight":"bold","fontSize":30,"align":"left","baseline":"alphabetic","color":"#000000"},
"encoding":{"x":{"field":"t","type":"quantitative","scale":{"type":"log","domain":[0.1,100],"nice":false},"axis":{"orient":"top","values":[0.1,0.2,0.3,0.4,0.5,0.6,0.7,0.8,0.9,1,2,3,4,5,6,7,8,9,10,20,30,40,50,60,70,80,90,100],"labels":false,"title":null}},
"y":{"field":"v","type":"quantitative","scale":{"domain":[0,0.6765],"nice":false},"axis":{"orient":"right","values":[0,0.2,0.4,0.6],"labels":false,"title":null}},
"text":{"field":"s"}}},
{"data":{"values":[{"t":57.4,"t2":62.1,"v":0.017,"v2":0.31}]},"mark":{"type":"rect","stroke":"#3a3a3a","strokeWidth":0.8,"fill":{"gradient":"linear","x1":0,"y1":1,"x2":0,"y2":0,"stops":[{"offset":0,"color":"#fcc68d"},{"offset":0.5,"color":"#c4844c"},{"offset":1,"color":"#1a1410"}]}},
"encoding":{"x":{"field":"t","type":"quantitative","scale":{"type":"log","domain":[0.1,100],"nice":false},"axis":null},"x2":{"field":"t2"},
"y":{"field":"v","type":"quantitative","scale":{"domain":[0,0.6765],"nice":false},"axis":null},"y2":{"field":"v2"}}},
{"data":{"values":[{"t":59.7,"v":0.344}]},"mark":{"type":"point","shape":"M0,-1L0.586,1L-0.586,1Z","size":841,"filled":true,"fill":"#1c1612","stroke":"#1c1612","strokeWidth":0.8,"opacity":1},
"encoding":{"x":{"field":"t","type":"quantitative","scale":{"type":"log","domain":[0.1,100],"nice":false},"axis":null},
"y":{"field":"v","type":"quantitative","scale":{"domain":[0,0.6765],"nice":false},"axis":null}}},
{"data":{"values":[{"t":50,"v":0.155,"s":"Mg content"}]},"mark":{"type":"text","font":"Liberation Sans","fontSize":17,"angle":270,"align":"center","baseline":"middle","color":"#000000"},
"encoding":{"x":{"field":"t","type":"quantitative","scale":{"type":"log","domain":[0.1,100],"nice":false},"axis":null},
"y":{"field":"v","type":"quantitative","scale":{"domain":[0,0.6765],"nice":false},"axis":null},"text":{"field":"s"}}}
],"resolve":{"scale":{"x":"independent","y":"independent"}}},
{"width":439,"height":274,"layer":[
{"data":{"name":"d"},"mark":{"type":"line","strokeWidth":2.2,"clip":true},
"encoding":{"x":{"field":"m","type":"quantitative","scale":{"domain":[0,0.39],"nice":false},"axis":{"orient":"bottom","values":[0.1,0.2,0.3],"labels":false,"title":null}},
"y":{"field":"b","type":"quantitative","scale":{"domain":[0,0.6765],"nice":false},"axis":{"orient":"right","values":[0,0.2,0.4,0.6],"format":"~g","title":null,"labelPadding":13}},
"color":{"field":"t","type":"quantitative","scale":{"type":"symlog","constant":3,"domain":[0.1,100],"range":["#3e26a8","#4346e0","#2f6ff0","#1b92e0","#10acc8","#35bb9a","#8ebf6a","#d6bd42","#f8c82a","#f9d10e"]},"legend":null},
"detail":{"field":"t","type":"nominal"}}},
{"data":{"values":[{"x":0.348,"x2":0.3525,"v":0.02,"v2":0.31}]},"mark":{"type":"rect","stroke":"#3a3a3a","strokeWidth":0.8,"fill":{"gradient":"linear","x1":0,"y1":1,"x2":0,"y2":0,"stops":[{"offset":0,"color":"#3e26a8"},{"offset":0.3,"color":"#2f6ff0"},{"offset":0.55,"color":"#10acc8"},{"offset":0.8,"color":"#8ebf6a"},{"offset":1,"color":"#f8cc10"}]}},
"encoding":{"x":{"field":"x","type":"quantitative","scale":{"domain":[0,0.39],"nice":false},"axis":{"orient":"top","values":[0.1,0.2,0.3],"labels":false,"title":null}},"x2":{"field":"x2"},
"y":{"field":"v","type":"quantitative","scale":{"domain":[0,0.6765],"nice":false},"axis":{"orient":"left","values":[0,0.2,0.4,0.6],"labels":false,"title":null}},"y2":{"field":"v2"}}},
{"data":{"values":[{"x":0.35,"v":0.344}]},"mark":{"type":"point","shape":"M0,-1L0.586,1L-0.586,1Z","size":841,"filled":true,"fill":"#f6c21c","stroke":"#3a3a3a","strokeWidth":0.8,"opacity":1},
"encoding":{"x":{"field":"x","type":"quantitative","scale":{"domain":[0,0.39],"nice":false},"axis":null},
"y":{"field":"v","type":"quantitative","scale":{"domain":[0,0.6765],"nice":false},"axis":null}}},
{"data":{"values":[{"x":0.336,"v":0.163,"s":"Ageing Time"}]},"mark":{"type":"text","font":"Liberation Sans","fontSize":17,"angle":270,"align":"center","baseline":"middle","color":"#000000"},
"encoding":{"x":{"field":"x","type":"quantitative","scale":{"domain":[0,0.39],"nice":false},"axis":null},
"y":{"field":"v","type":"quantitative","scale":{"domain":[0,0.6765],"nice":false},"axis":null},"text":{"field":"s"}}}
],"resolve":{"scale":{"x":"independent","y":"independent"}}},
{"width":439,"height":35,"view":{"stroke":null},"data":{"values":[{"s":""}]},"mark":{"type":"text"},"encoding":{"text":{"field":"s"}}},
{"width":439,"height":35,"view":{"stroke":null},"data":{"values":[{"s":""}]},"mark":{"type":"text"},"encoding":{"text":{"field":"s"}}},
{"width":439,"height":240,"layer":[
{"data":{"name":"d"},"mark":{"type":"line","strokeWidth":1.3,"clip":true},
"encoding":{"x":{"field":"t","type":"quantitative","scale":{"type":"log","domain":[0.1,100],"nice":false},"axis":{"orient":"bottom","values":[0.1,0.2,0.3,0.4,0.5,0.6,0.7,0.8,0.9,1,2,3,4,5,6,7,8,9,10,20,30,40,50,60,70,80,90,100],"labelExpr":"datum.value == 0.1 ? '10⁻¹' : datum.value == 1 ? '10⁰' : datum.value == 10 ? '10¹' : datum.value == 100 ? '10²' : ''","title":"Ageing time (h)","labelPadding":9,"titlePadding":16}},
"y":{"field":"c","type":"quantitative","scale":{"domain":[0,12.9],"nice":false},"axis":{"orient":"left","values":[0,5,10],"title":"(at/nm⁻³)","labelPadding":5,"titlePadding":14}},
"color":{"field":"m","type":"quantitative","scale":{"domain":[0,0.388],"range":["#fcc891","#eba266","#b87440","#5c3820","#000000"]},"legend":null},
"detail":{"field":"m","type":"nominal"}}},
{"data":{"values":[{"t":0.137,"v":10.6,"s":"Precipitates - excess Cu"}]},"mark":{"type":"text","font":"Liberation Sans","fontWeight":"bold","fontSize":30,"align":"left","baseline":"alphabetic","color":"#000000"},
"encoding":{"x":{"field":"t","type":"quantitative","scale":{"type":"log","domain":[0.1,100],"nice":false},"axis":{"orient":"top","values":[0.1,0.2,0.3,0.4,0.5,0.6,0.7,0.8,0.9,1,2,3,4,5,6,7,8,9,10,20,30,40,50,60,70,80,90,100],"labels":false,"title":null}},
"y":{"field":"v","type":"quantitative","scale":{"domain":[0,12.9],"nice":false},"axis":{"orient":"right","values":[0,5,10],"labels":false,"title":null}},
"text":{"field":"s"}}}
],"resolve":{"scale":{"x":"independent","y":"independent"}}},
{"width":439,"height":240,"layer":[
{"data":{"name":"d"},"mark":{"type":"line","strokeWidth":2.2,"clip":true},
"encoding":{"x":{"field":"m","type":"quantitative","scale":{"domain":[0,0.39],"nice":false},"axis":{"orient":"bottom","values":[0.1,0.2,0.3],"format":"~g","title":"Mg (at%)","labelPadding":9,"titlePadding":16}},
"y":{"field":"c","type":"quantitative","scale":{"domain":[0,12.9],"nice":false},"axis":{"orient":"right","values":[0,5,10],"title":null,"labelPadding":13}},
"color":{"field":"t","type":"quantitative","scale":{"type":"symlog","constant":3,"domain":[0.1,100],"range":["#3e26a8","#4346e0","#2f6ff0","#1b92e0","#10acc8","#35bb9a","#8ebf6a","#d6bd42","#f8c82a","#f9d10e"]},"legend":null},
"detail":{"field":"t","type":"nominal"}}},
{"data":{"values":[{"x":0.2,"y":5}]},"mark":{"type":"point","opacity":0},
"encoding":{"x":{"field":"x","type":"quantitative","scale":{"domain":[0,0.39],"nice":false},"axis":{"orient":"top","values":[0.1,0.2,0.3],"labels":false,"title":null}},
"y":{"field":"y","type":"quantitative","scale":{"domain":[0,12.9],"nice":false},"axis":{"orient":"left","values":[0,5,10],"labels":false,"title":null}}}}
],"resolve":{"scale":{"x":"independent","y":"independent"}}}
],
"columns":2,"spacing":{"row":0,"column":0},"bounds":"flush","resolve":{"scale":{"color":"independent"}}
}
